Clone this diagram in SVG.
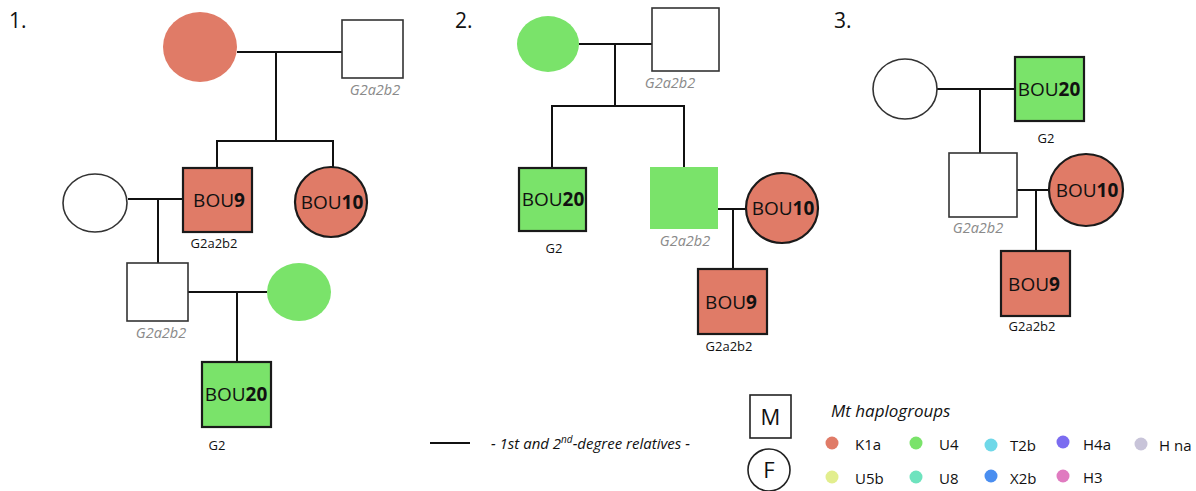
<svg xmlns="http://www.w3.org/2000/svg" width="1196" height="491" viewBox="0 0 1196 491">
<style>
text{font-family:"Open Sans","Liberation Sans",sans-serif;fill:#111}
.num{font-size:21px}
.lbl{font-size:19px;text-anchor:middle}
.lbl tspan.b{font-weight:bold}
.hg{font-size:13px;text-anchor:middle}
.hgi{font-size:14.5px;text-anchor:middle;font-style:italic;fill:#8a8a8a}
.k1{fill:#E07B67}
.u4{fill:#7AE36A}
.st{stroke:#1a1a1a;stroke-width:2.2}
.emp{fill:#fff;stroke:#333;stroke-width:1.6}
.con line{stroke:#111;stroke-width:2}
.leg{font-size:15px}
</style>
<g class="con" id="connectors">
<line x1="237" y1="52" x2="342" y2="52"/><line x1="276" y1="52" x2="276" y2="141"/>
<line x1="216" y1="141" x2="334" y2="141"/><line x1="217" y1="141" x2="217" y2="168"/><line x1="333" y1="141" x2="333" y2="167"/>
<line x1="128" y1="199" x2="183" y2="199"/><line x1="158" y1="199" x2="158" y2="263"/>
<line x1="188" y1="292" x2="267" y2="292"/><line x1="237" y1="292" x2="237" y2="362"/>
<line x1="579" y1="44" x2="652" y2="44"/><line x1="615" y1="44" x2="615" y2="106"/>
<line x1="551" y1="106" x2="685" y2="106"/><line x1="552" y1="106" x2="552" y2="168"/><line x1="684" y1="106" x2="684" y2="167"/>
<line x1="718" y1="209" x2="746" y2="209"/><line x1="733" y1="209" x2="733" y2="269"/>
<line x1="937" y1="89" x2="1015" y2="89"/><line x1="980" y1="89" x2="980" y2="153"/>
<line x1="1017" y1="190" x2="1049" y2="190"/><line x1="1036" y1="190" x2="1036" y2="251"/>
<line x1="430" y1="443" x2="470" y2="443"/>
</g>
<text class="num" x="9" y="28">1.</text>
<text class="num" x="455" y="28">2.</text>
<text class="num" x="834" y="28">3.</text>
<!-- Panel 1 -->
<g id="p1-mother"><ellipse class="k1" cx="200" cy="47" rx="37" ry="35"/></g>
<g id="p1-father"><rect class="emp" x="342" y="20" width="61" height="58"/><text class="hgi" x="375" y="95">G2a2b2</text></g>
<g id="p1-bou9"><rect class="k1 st" x="183" y="168" width="69" height="64"/><text class="lbl" x="219" y="207">BOU<tspan class="b">9</tspan></text><text class="hg" x="214" y="248">G2a2b2</text></g>
<g id="p1-bou10"><ellipse class="k1 st" cx="331" cy="202" rx="36" ry="35"/><text class="lbl" x="332" y="209">BOU<tspan class="b">10</tspan></text></g>
<g id="p1-wife"><ellipse class="emp" cx="95" cy="203" rx="32" ry="29"/></g>
<g id="p1-son"><rect class="emp" x="127" y="263" width="61" height="58"/><text class="hgi" x="161" y="338">G2a2b2</text></g>
<g id="p1-daughterinlaw"><ellipse class="u4" cx="299" cy="292" rx="32" ry="29"/></g>
<g id="p1-bou20"><rect class="u4 st" x="202" y="362" width="69" height="65"/><text class="lbl" x="236" y="401">BOU<tspan class="b">20</tspan></text><text class="hg" x="217" y="450">G2</text></g>
<!-- Panel 2 -->
<g id="p2-mother"><ellipse class="u4" cx="548" cy="44" rx="31" ry="28"/></g>
<g id="p2-father"><rect class="emp" x="652" y="8" width="67" height="63"/><text class="hgi" x="670" y="88">G2a2b2</text></g>
<g id="p2-bou20"><rect class="u4 st" x="519" y="168" width="67" height="63"/><text class="lbl" x="553" y="206">BOU<tspan class="b">20</tspan></text><text class="hg" x="554" y="253">G2</text></g>
<g id="p2-son"><rect class="u4" x="650" y="167" width="68" height="62"/><text class="hgi" x="685" y="246">G2a2b2</text></g>
<g id="p2-bou10"><ellipse class="k1 st" cx="782" cy="208" rx="36" ry="35"/><text class="lbl" x="783" y="215">BOU<tspan class="b">10</tspan></text></g>
<g id="p2-bou9"><rect class="k1 st" x="698" y="269" width="69" height="65"/><text class="lbl" x="731" y="309">BOU<tspan class="b">9</tspan></text><text class="hg" x="729" y="351">G2a2b2</text></g>
<!-- Panel 3 -->
<g id="p3-mother"><ellipse class="emp" cx="905" cy="89" rx="32" ry="30"/></g>
<g id="p3-bou20"><rect class="u4 st" x="1015" y="57" width="69" height="64"/><text class="lbl" x="1049" y="96">BOU<tspan class="b">20</tspan></text><text class="hg" x="1046" y="143">G2</text></g>
<g id="p3-son"><rect class="emp" x="949" y="153" width="68" height="64"/><text class="hgi" x="978" y="233">G2a2b2</text></g>
<g id="p3-bou10"><ellipse class="k1 st" cx="1086" cy="190" rx="37" ry="36"/><text class="lbl" x="1087" y="197">BOU<tspan class="b">10</tspan></text></g>
<g id="p3-bou9"><rect class="k1 st" x="1001" y="251" width="69" height="65"/><text class="lbl" x="1034" y="291">BOU<tspan class="b">9</tspan></text><text class="hg" x="1032" y="331">G2a2b2</text></g>
<!-- Legend -->
<g id="legend-line"><text class="leg" x="491" y="449" style="font-style:italic;font-size:15px">- 1st and 2<tspan style="font-size:10px" dy="-6">nd</tspan><tspan dy="6">-degree relatives -</tspan></text></g>
<g id="legend-m"><rect x="750" y="395" width="41" height="43" fill="#fff" stroke="#222" stroke-width="1.6"/><text x="770.5" y="425" style="font-size:22px;text-anchor:middle">M</text></g>
<g id="legend-f"><circle cx="769" cy="470" r="21" fill="#fff" stroke="#222" stroke-width="1.6"/><text x="769" y="478" style="font-size:22px;text-anchor:middle">F</text></g>
<g id="legend-haplo">
<text class="leg" x="831" y="417" style="font-style:italic;font-size:17px">Mt haplogroups</text>
<circle cx="832" cy="443" r="6.5" fill="#E07B67"/><text class="leg" x="855" y="450">K1a</text>
<circle cx="916" cy="443" r="6.5" fill="#7AE36A"/><text class="leg" x="939" y="450">U4</text>
<circle cx="991" cy="445" r="6.5" fill="#6FD8E8"/><text class="leg" x="1010" y="451">T2b</text>
<circle cx="1063" cy="442" r="6.5" fill="#7B6CF0"/><text class="leg" x="1083" y="450">H4a</text>
<circle cx="1141" cy="444" r="6.5" fill="#C8C4D9"/><text class="leg" x="1159" y="451">H na</text>
<circle cx="832" cy="477" r="6.5" fill="#E2EE8E"/><text class="leg" x="855" y="484">U5b</text>
<circle cx="916" cy="477" r="6.5" fill="#6EE3BE"/><text class="leg" x="939" y="484">U8</text>
<circle cx="991" cy="476" r="6.5" fill="#4A8EF0"/><text class="leg" x="1010" y="484">X2b</text>
<circle cx="1063" cy="476" r="6.5" fill="#E07BC0"/><text class="leg" x="1083" y="483">H3</text>
</g>
</svg>
